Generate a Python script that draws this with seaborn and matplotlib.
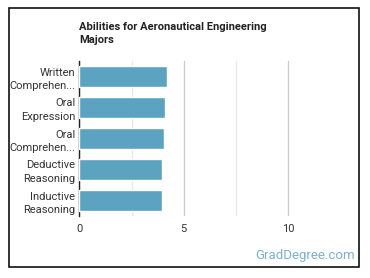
import pandas as pd
import matplotlib.pyplot as plt
import seaborn as sns
from matplotlib.patches import Rectangle

# Data
abilities = ['Written\nComprehen...', 'Oral\nExpression', 'Oral\nComprehen...',
             'Deductive\nReasoning', 'Inductive\nReasoning']
scores = [4.21, 4.11, 4.03, 3.98, 3.97]
x_ticks = [0, 5, 10]

df = pd.DataFrame({'Ability': abilities, 'Score': scores})

sns.set_style('white')
plt.rcParams['font.family'] = ['Roboto', 'DejaVu Sans']

fig = plt.figure(figsize=(3.7, 2.78), dpi=100)
ax = fig.add_axes([79.3 / 370, 1 - 216 / 278, (340.5 - 79.3) / 370, (216 - 61) / 278])

sns.barplot(x='Score', y='Ability', data=df, color='#5ba3c1', saturation=1,
            width=0.66, ax=ax, zorder=3)

ax.set_xlim(0, 12.5)
ax.set_xticks(x_ticks)
ax.set_xticks([2.5, 7.5], minor=True)
ax.grid(axis='x', which='major', color='#cccccc', linewidth=1, zorder=0)
ax.grid(axis='x', which='minor', color='#e8e8e8', linewidth=1, zorder=0)
ax.set_axisbelow(True)
ax.set_xlabel('')
ax.set_ylabel('')
for s in ['top', 'right', 'bottom']:
    ax.spines[s].set_visible(False)
ax.spines['left'].set_color('#222222')
ax.spines['left'].set_linewidth(1)
ax.tick_params(axis='both', which='both', length=0, labelsize=8, colors='#333333', pad=3)
ax.tick_params(axis='x', pad=6)
for lbl in ax.get_yticklabels():
    lbl.set_linespacing(1.45)

fig.text(79 / 370, 1 - 22 / 278, 'Abilities for Aeronautical Engineering\nMajors',
         fontsize=8, fontweight='bold', color='#222222', va='top', ha='left',
         linespacing=1.35)
fig.text(355 / 370, 1 - 256 / 278, 'GradDegree.com', fontsize=9.5, color='#7fb1cc',
         ha='right', va='center')

fig.patches.append(Rectangle((8.5 / 370, 1 - 267 / 278), 350.5 / 370, 259 / 278,
                             transform=fig.transFigure, fill=False,
                             edgecolor='#111111', linewidth=1.2))

fig.savefig('out.png', dpi=100)
